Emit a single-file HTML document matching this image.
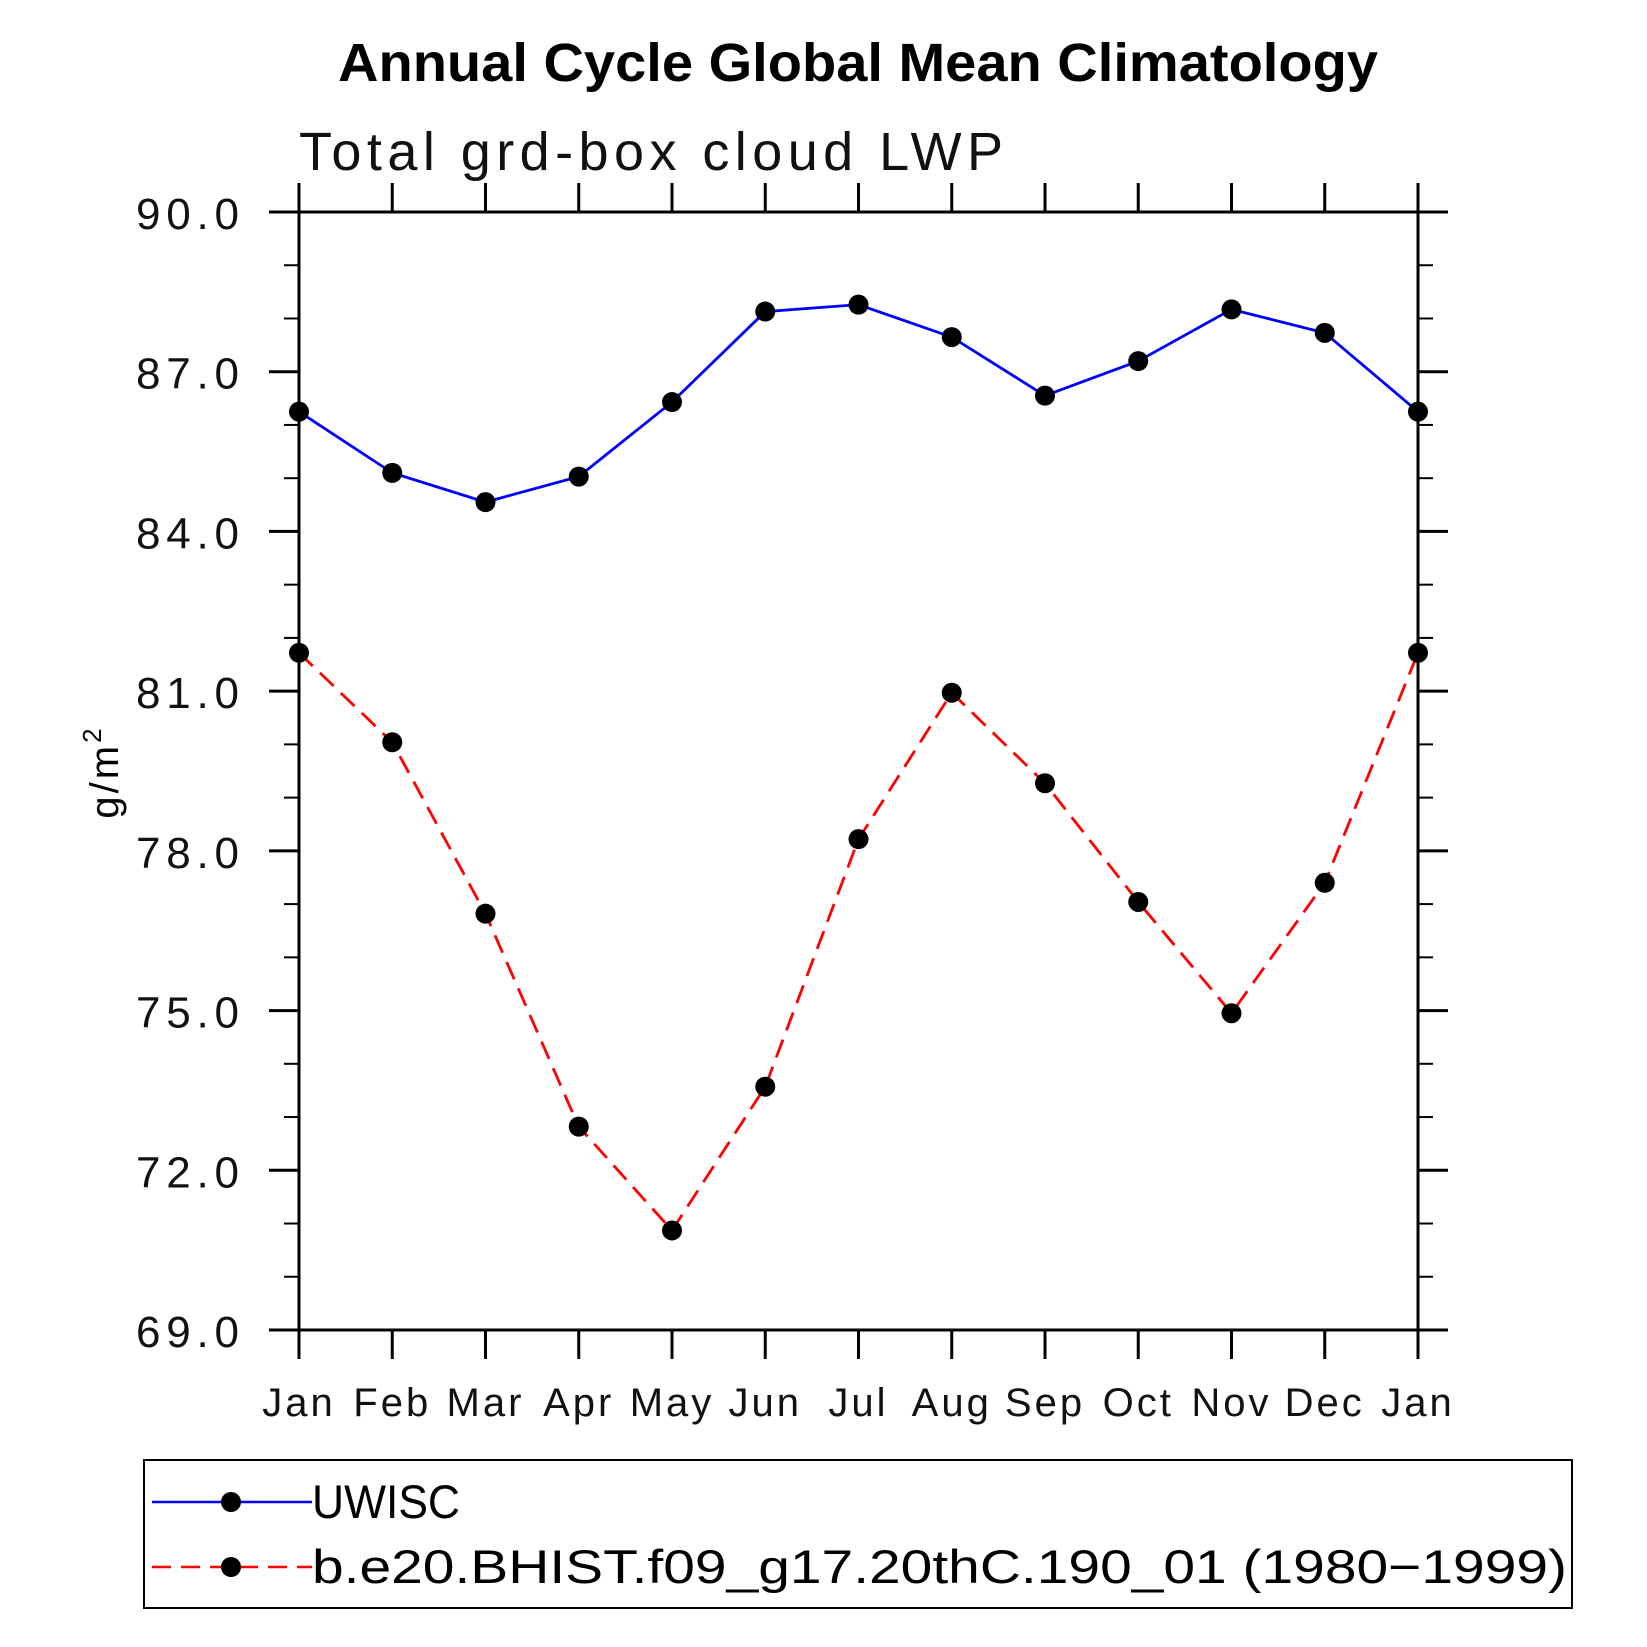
<!DOCTYPE html>
<html><head><meta charset="utf-8"><style>html,body{margin:0;padding:0;background:#fff}svg{display:block}</style></head>
<body>
<svg id="chart" width="1647" height="1647" viewBox="0 0 1647 1647" xmlns="http://www.w3.org/2000/svg" font-family="'Liberation Sans', sans-serif">
<text x="858" y="81" text-anchor="middle" font-weight="bold" font-size="54" textLength="1040" lengthAdjust="spacingAndGlyphs">Annual Cycle Global Mean Climatology</text>
<text x="299" y="170" font-size="54" fill="#111" textLength="704" lengthAdjust="spacing">Total grd-box cloud LWP</text>
<text transform="translate(118,772) rotate(-90)" text-anchor="middle" font-size="40" letter-spacing="3">g/m<tspan font-size="26" dy="-17">2</tspan></text>
<g id="axes"></g>
<g id="series"></g>
<rect x="144" y="1460" width="1428" height="148" fill="none" stroke="#000" stroke-width="2"/>
<g>
<line x1="152" y1="1502" x2="312" y2="1502" stroke="#00f" stroke-width="2.5"/>
<circle cx="231" cy="1502" r="10" fill="#000"/>
<text x="312" y="1518" font-size="47" textLength="148" lengthAdjust="spacingAndGlyphs">UWISC</text>
</g>
<g>
<line x1="152" y1="1567" x2="312" y2="1567" stroke="#f00" stroke-width="2.5" stroke-dasharray="19,10"/>
<circle cx="231" cy="1567" r="10" fill="#000"/>
<text x="312" y="1583" font-size="47" textLength="1255" lengthAdjust="spacingAndGlyphs">b.e20.BHIST.f09_g17.20thC.190_01 (1980−1999)</text>
</g>
</svg>
<script>
const months = ["Jan","Feb","Mar","Apr","May","Jun","Jul","Aug","Sep","Oct","Nov","Dec","Jan"];
const uwiscValues = [86.25,85.1,84.55,85.03,86.43,88.13,88.26,87.65,86.55,87.2,88.17,87.73,86.25];
const modelValues = [81.72,80.04,76.82,72.82,70.87,73.57,78.22,80.97,79.27,77.04,74.95,77.4,81.72];
const yTickLabels = ["69.0","72.0","75.0","78.0","81.0","84.0","87.0","90.0"];
const yMin = 69, yMax = 90;

const NS = "http://www.w3.org/2000/svg";
const L = 299, R = 1418, T = 212, B = 1330;
const xs = i => L + (R - L) * i / (months.length - 1);
const ys = v => B - (B - T) * (v - yMin) / (yMax - yMin);
function mk(tag, attrs, parent) {
  const e = document.createElementNS(NS, tag);
  for (const k in attrs) e.setAttribute(k, attrs[k]);
  parent.appendChild(e);
  return e;
}
const axes = document.getElementById("axes");
const frame = mk("rect", {x:L, y:T, width:R-L, height:B-T, fill:"none", stroke:"#000", "stroke-width":3}, axes);


for (let v = yMin; v <= yMax; v++) {
  const major = (v - yMin) % 3 === 0;
  const len = major ? 30 : 15;
  const y = ys(v);
  const t1 = mk("line", {x1:L-len, y1:y, x2:L, y2:y, stroke:"#000", "stroke-width":major?3:2}, axes);
  
  
  const t2 = mk("line", {x1:R, y1:y, x2:R+len, y2:y, stroke:"#000", "stroke-width":major?3:2}, axes);
  
  
}
yTickLabels.forEach(lbl => {
  const t = mk("text", {x:239, y:ys(parseFloat(lbl))+17, "text-anchor":"end", "font-size":44, fill:"#111", textLength:103, lengthAdjust:"spacing"}, axes);
  t.textContent = lbl;
  
  
});
months.forEach((m, i) => {
  const x = xs(i);
  const a = mk("line", {x1:x, y1:B, x2:x, y2:B+29, stroke:"#000", "stroke-width":3}, axes);
  
  
  const b = mk("line", {x1:x, y1:T-29, x2:x, y2:T, stroke:"#000", "stroke-width":3}, axes);
  
  
  const t = mk("text", {x:x, y:1416, "text-anchor":"middle", "font-size":40, fill:"#111", "letter-spacing":3}, axes);
  t.textContent = m;
  
  
});
const series = document.getElementById("series");
function drawSeries(vals, color, dash, name) {
  const pts = vals.map((v, i) => xs(i) + "," + ys(v)).join(" ");
  const attrs = {points:pts, fill:"none", stroke:color, "stroke-width":2.8};
  if (dash) attrs["stroke-dasharray"] = dash;
  const pl = mk("polyline", attrs, series);
  
  
  vals.forEach((v, i) => {
    const c = mk("circle", {cx:xs(i), cy:ys(v), r:10, fill:"#000"}, series);
    
    
  });
}
drawSeries(uwiscValues, "#00f", null, "uwisc");
drawSeries(modelValues, "#f00", "19,10", "model");
</script>
</body></html>
